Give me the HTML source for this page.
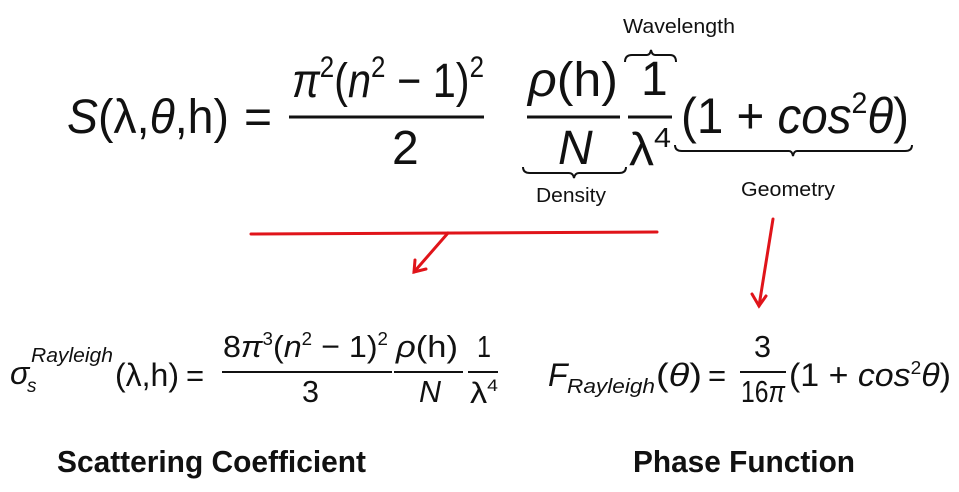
<!DOCTYPE html>
<html><head><meta charset="utf-8"><style>
html,body{margin:0;padding:0;background:#fff;}
svg{display:block;}
text{font-family:"Liberation Sans","DejaVu Sans",sans-serif;fill:#111;}
.it{font-style:italic;}
.b{font-weight:bold;}
</style></head><body>
<svg width="959" height="492" viewBox="0 0 959 492" xmlns="http://www.w3.org/2000/svg">
<!-- main equation -->
<text x="67" y="133" font-size="48" textLength="162" lengthAdjust="spacingAndGlyphs"><tspan class="it">S</tspan>(λ,<tspan class="it">θ</tspan>,h)</text>
<text x="244" y="133" font-size="48">=</text>
<line x1="289" y1="117" x2="484" y2="117" stroke="#111" stroke-width="3"/>
<text x="292" y="97" font-size="48" textLength="192" lengthAdjust="spacingAndGlyphs"><tspan class="it">π</tspan><tspan font-size="30" dy="-20">2</tspan><tspan dy="20">(</tspan><tspan class="it">n</tspan><tspan font-size="30" dy="-20">2</tspan><tspan dy="20"> − 1)</tspan><tspan font-size="30" dy="-20">2</tspan></text>
<text x="392" y="164" font-size="48">2</text>
<line x1="527" y1="117" x2="620" y2="117" stroke="#111" stroke-width="3"/>
<text x="528" y="96" font-size="48" textLength="90" lengthAdjust="spacingAndGlyphs"><tspan class="it">ρ</tspan>(h)</text>
<text x="558" y="164" font-size="48" class="it">N</text>
<line x1="628" y1="117" x2="672" y2="117" stroke="#111" stroke-width="3"/>
<text x="641" y="95" font-size="48">1</text>
<text x="629" y="165" font-size="46" textLength="42" lengthAdjust="spacingAndGlyphs">λ<tspan font-size="28" dy="-18">4</tspan></text>
<text x="681" y="133" font-size="50" textLength="228" lengthAdjust="spacingAndGlyphs">(1 + <tspan class="it">cos</tspan><tspan font-size="30" dy="-20">2</tspan><tspan dy="20" class="it">θ</tspan>)</text>
<!-- braces -->
<path d="M625,62 Q625,55 632,55 L647,55 Q650,55 651,50 Q652,55 655,55 L670,55 Q676,55 676,62" fill="none" stroke="#111" stroke-width="2"/>
<path d="M523,167 Q523,173 530,173 L569,173 Q573,173 574,178 Q575,173 579,173 L619,173 Q626,173 626,167" fill="none" stroke="#111" stroke-width="2"/>
<path d="M675,145 Q675,151 682,151 L789,151 Q792,151 793,156 Q794,151 797,151 L905,151 Q912,151 912,145" fill="none" stroke="#111" stroke-width="2"/>
<text x="623" y="33" font-size="20" textLength="112" lengthAdjust="spacingAndGlyphs">Wavelength</text>
<text x="536" y="202" font-size="20" textLength="70" lengthAdjust="spacingAndGlyphs">Density</text>
<text x="741" y="196" font-size="20" textLength="94" lengthAdjust="spacingAndGlyphs">Geometry</text>
<!-- red arrows -->
<g stroke="#e0141a" stroke-width="3" fill="none" stroke-linecap="round">
<line x1="251" y1="234" x2="657" y2="232"/>
<line x1="448" y1="233" x2="414" y2="272"/>
<path d="M415,260 L414,272 L426,269"/>
<line x1="773" y1="219" x2="759" y2="306"/>
<path d="M752,294 L759,306 L766,296"/>
</g>
<!-- bottom left formula -->
<text x="10" y="384" font-size="32" class="it">σ</text>
<text x="27" y="392" font-size="19" class="it">s</text>
<text x="31" y="362" font-size="20" class="it" textLength="82" lengthAdjust="spacingAndGlyphs">Rayleigh</text>
<text x="115" y="386" font-size="32" textLength="64" lengthAdjust="spacingAndGlyphs">(λ,h)</text>
<text x="186" y="386" font-size="31">=</text>
<line x1="222" y1="372" x2="392" y2="372" stroke="#111" stroke-width="2"/>
<text x="223" y="357" font-size="31" textLength="165" lengthAdjust="spacingAndGlyphs">8<tspan class="it">π</tspan><tspan font-size="18" dy="-12">3</tspan><tspan dy="12">(</tspan><tspan class="it">n</tspan><tspan font-size="18" dy="-12">2</tspan><tspan dy="12"> − 1)</tspan><tspan font-size="18" dy="-12">2</tspan></text>
<text x="302" y="402" font-size="31" textLength="17" lengthAdjust="spacingAndGlyphs">3</text>
<line x1="394" y1="372" x2="463" y2="372" stroke="#111" stroke-width="2"/>
<text x="396" y="357" font-size="31" textLength="62" lengthAdjust="spacingAndGlyphs"><tspan class="it">ρ</tspan>(h)</text>
<text x="419" y="402" font-size="31" class="it" textLength="22" lengthAdjust="spacingAndGlyphs">N</text>
<line x1="468" y1="372" x2="498" y2="372" stroke="#111" stroke-width="2"/>
<text x="477" y="357" font-size="31" textLength="14" lengthAdjust="spacingAndGlyphs">1</text>
<text x="470" y="403" font-size="30" textLength="28" lengthAdjust="spacingAndGlyphs">λ<tspan font-size="17" dy="-12">4</tspan></text>
<!-- bottom right formula -->
<text x="548" y="386" font-size="32" class="it">F</text>
<text x="567" y="393" font-size="20" class="it" textLength="88" lengthAdjust="spacingAndGlyphs">Rayleigh</text>
<text x="656" y="386" font-size="32" textLength="46" lengthAdjust="spacingAndGlyphs">(<tspan class="it">θ</tspan>)</text>
<text x="708" y="386" font-size="31">=</text>
<line x1="740" y1="372" x2="786" y2="372" stroke="#111" stroke-width="2"/>
<text x="754" y="357" font-size="31" textLength="17" lengthAdjust="spacingAndGlyphs">3</text>
<text x="741" y="402" font-size="31" textLength="44" lengthAdjust="spacingAndGlyphs">16<tspan class="it">π</tspan></text>
<text x="789" y="386" font-size="32" textLength="162" lengthAdjust="spacingAndGlyphs">(1 + <tspan class="it">cos</tspan><tspan font-size="18" dy="-12">2</tspan><tspan dy="12" class="it">θ</tspan>)</text>
<!-- labels -->
<text x="57" y="472" font-size="31" class="b" textLength="309" lengthAdjust="spacingAndGlyphs">Scattering Coefficient</text>
<text x="633" y="472" font-size="31" class="b" textLength="222" lengthAdjust="spacingAndGlyphs">Phase Function</text>
</svg>
</body></html>
